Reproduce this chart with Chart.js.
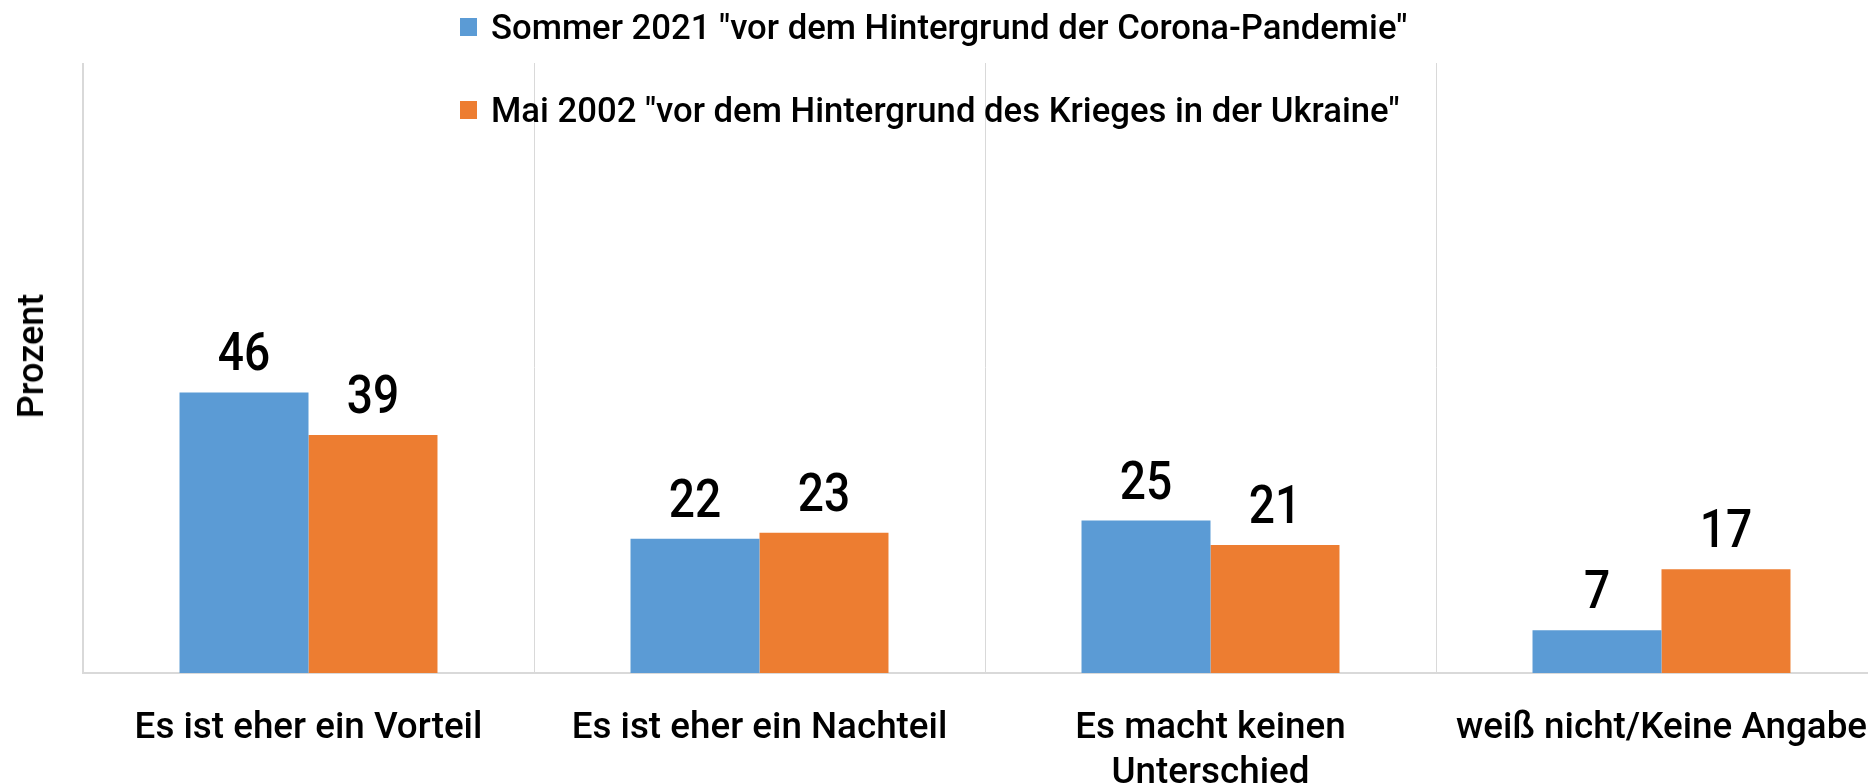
<!DOCTYPE html>
<html>
<head>
<meta charset="utf-8">
<script src="https://cdn.jsdelivr.net/npm/chart.js@4.4.0/dist/chart.umd.min.js"></script>
<style>
    html, body { margin: 0; padding: 0; background: #fff; overflow: hidden; }
    #wrap { position: relative; width: 1868px; height: 784px; overflow: hidden; }
    #chart { position: absolute; left: 0; top: 0; }
    .legend-item {
        position: absolute; left: 460px; height: 40px;
        display: flex; align-items: center; white-space: nowrap;
        font-family: Roboto, "Liberation Sans", sans-serif; font-size: 34.7px; font-weight: 500; color: #000;
    }
    .legend-box { width: 17px; height: 18px; margin-right: 14px; }
    #ytitle {
        position: absolute; left: 31px; top: 356px; white-space: nowrap;
        transform: translate(-50%, -50%) rotate(-90deg);
        font-family: Roboto, "Liberation Sans", sans-serif; font-size: 36px; font-weight: 500; color: #000;
    }
</style>
</head>
<body>
<div id="wrap">
    <canvas id="chart" width="1887" height="784"></canvas>
    <div id="legend"></div>
    <div id="ytitle">Prozent</div>
</div>
<script>
const categories = [
    "Es ist eher ein Vorteil",
    "Es ist eher ein Nachteil",
    ["Es macht keinen", "Unterschied"],
    "weiß nicht/Keine Angabe"
];
const seriesLabels = [
    'Sommer 2021 "vor dem Hintergrund der Corona-Pandemie"',
    'Mai 2002 "vor dem Hintergrund des Krieges in der Ukraine"'
];
const sommer2021 = [46, 22, 25, 7];
const mai2002 = [39, 23, 21, 17];
const colors = ["#5B9BD5", "#ED7D31"];

// legend drawn as html, it overlaps the plot like in the original
const legendTops = [7, 90];
const legend = document.getElementById("legend");
seriesLabels.forEach((label, i) => {
    const item = document.createElement("div");
    item.className = "legend-item";
    item.style.top = legendTops[i] + "px";
    const box = document.createElement("span");
    box.className = "legend-box";
    box.style.background = colors[i];
    const txt = document.createElement("span");
    txt.textContent = label;
    item.appendChild(box);
    item.appendChild(txt);
    legend.appendChild(item);
});

const valueLabels = {
    id: "valueLabels",
    afterDatasetsDraw(chart) {
        const ctx = chart.ctx;
        chart.data.datasets.forEach((ds, i) => {
            chart.getDatasetMeta(i).data.forEach((bar, j) => {
                ctx.save();
                ctx.font = '500 53px Roboto, "Liberation Sans", sans-serif';
                ctx.fillStyle = "#000";
                ctx.textAlign = "center";
                ctx.textBaseline = "alphabetic";
                // original digits are narrower, squeeze a bit
                ctx.translate(bar.x, bar.y - 22);
                ctx.scale(0.87, 1);
                ctx.fillText(ds.data[j], 0, 0);
                ctx.restore();
            });
        });
    }
};

const ctx = document.getElementById("chart").getContext("2d");

new Chart(ctx, {
    type: "bar",
    data: {
        labels: categories,
        datasets: [
            { label: seriesLabels[0], data: sommer2021, backgroundColor: colors[0] },
            { label: seriesLabels[1], data: mai2002, backgroundColor: colors[1] }
        ]
    },
    options: {
        responsive: false,
        animation: false,
        layout: { padding: { left: 83, top: 63, right: 0, bottom: 0 } },
        datasets: {
            bar: { barPercentage: 1, categoryPercentage: 0.572, borderWidth: 0 }
        },
        plugins: {
            legend: { display: false },
            tooltip: { enabled: false }
        },
        scales: {
            x: {
                grid: {
                    color: "#d9d9d9",
                    lineWidth: c => (c.index === 0 ? 2 : 1),
                    drawTicks: false,
                    offset: true
                },
                border: { display: true, color: "#d9d9d9", width: 2 },
                ticks: {
                    color: "#000",
                    padding: 33,
                    maxRotation: 0,
                    autoSkip: false,
                    font: { family: "Roboto, 'Liberation Sans', sans-serif", size: 36.8, weight: 500, lineHeight: 1.22 }
                },
                afterFit(scale) {
                    scale.height = 111;
                    scale.paddingLeft = 0;
                    scale.paddingRight = 0;
                }
            },
            y: {
                display: false,
                min: 0,
                max: 100
            }
        }
    },
    plugins: [valueLabels]
});
</script>
</body>
</html>
